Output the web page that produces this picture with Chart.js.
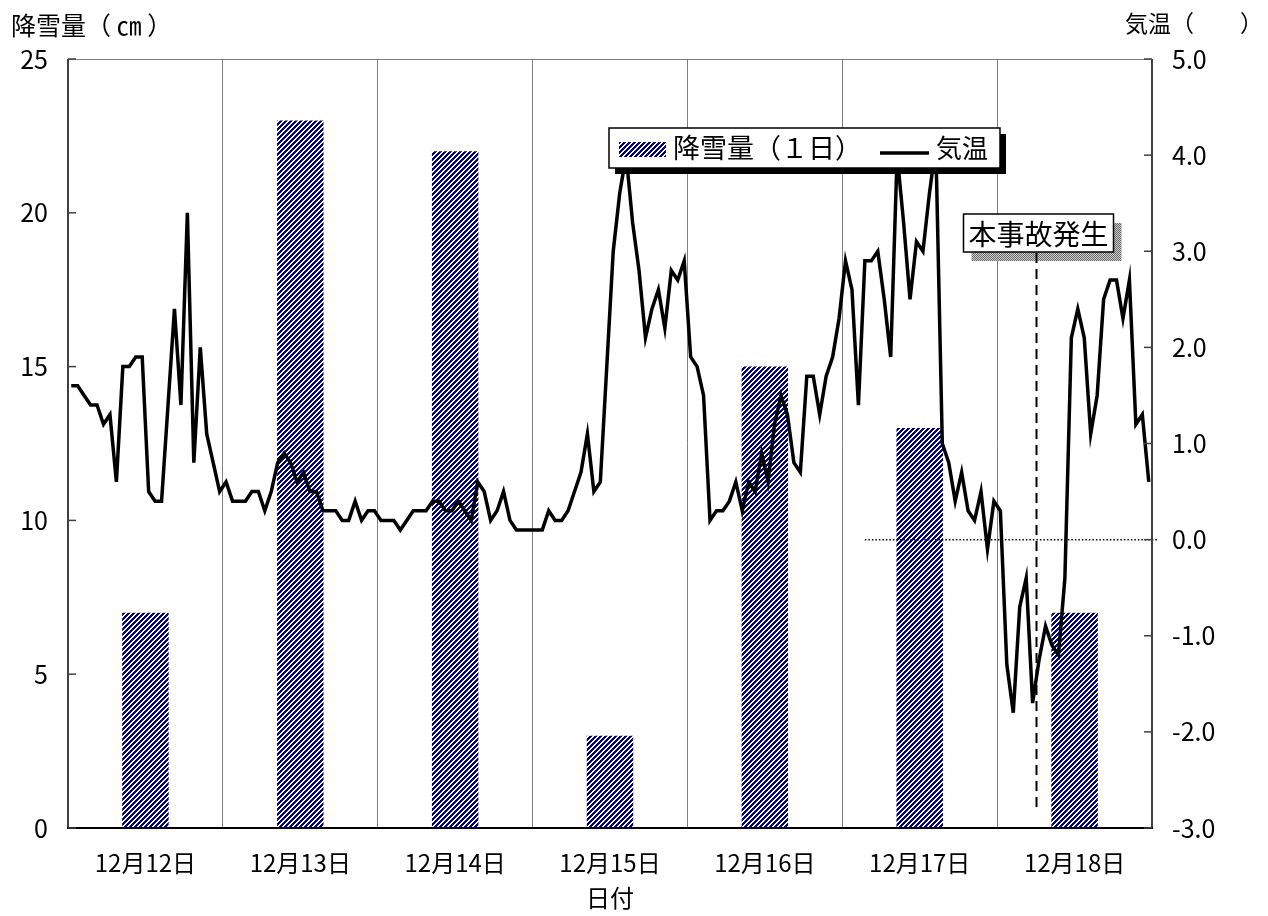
<!DOCTYPE html>
<html lang="ja">
<head>
<meta charset="utf-8">
<title>降雪量と気温</title>
<script src="https://cdn.jsdelivr.net/npm/chart.js@4.4.1/dist/chart.umd.min.js"></script>
<style>
  html, body { margin: 0; padding: 0; background: #fff; }
  #wrap { width: 1268px; height: 916px; }
</style>
</head>
<body>
<div id="wrap"><canvas id="chart-snow" width="1268" height="916"></canvas></div>
<script>
/* ---- data ---- */
const dayLabels = ['12月12日', '12月13日', '12月14日', '12月15日', '12月16日', '12月17日', '12月18日'];
const snowfall = [7, 23, 22, 3, 15, 13, 7];          // cm / day
// hourly temperature, 12/12 0時 .. 12/18 23時
const tempDay12 = [1.6, 1.6, 1.5, 1.4, 1.4, 1.2, 1.3, 0.6, 1.8, 1.8, 1.9, 1.9, 0.5, 0.4, 0.4, 1.4, 2.4, 1.4, 3.4, 0.8, 2.0, 1.1, 0.8, 0.5];
const tempDay13 = [0.6, 0.4, 0.4, 0.4, 0.5, 0.5, 0.3, 0.5, 0.8, 0.9, 0.8, 0.6, 0.7, 0.5, 0.5, 0.3, 0.3, 0.3, 0.2, 0.2, 0.4, 0.2, 0.3, 0.3];
const tempDay14 = [0.2, 0.2, 0.2, 0.1, 0.2, 0.3, 0.3, 0.3, 0.4, 0.4, 0.3, 0.3, 0.4, 0.3, 0.2, 0.6, 0.5, 0.2, 0.3, 0.5, 0.2, 0.1, 0.1, 0.1];
const tempDay15 = [0.1, 0.1, 0.3, 0.2, 0.2, 0.3, 0.5, 0.7, 1.1, 0.5, 0.6, 1.8, 3.0, 3.6, 4.0, 3.3, 2.8, 2.1, 2.4, 2.6, 2.2, 2.8, 2.7, 2.9];
const tempDay16 = [1.9, 1.8, 1.5, 0.2, 0.3, 0.3, 0.4, 0.6, 0.3, 0.6, 0.5, 0.9, 0.6, 1.2, 1.5, 1.3, 0.8, 0.7, 1.7, 1.7, 1.3, 1.7, 1.9, 2.3];
const tempDay17 = [2.9, 2.6, 1.4, 2.9, 2.9, 3.0, 2.5, 1.9, 4.0, 3.3, 2.5, 3.1, 3.0, 3.6, 4.1, 1.0, 0.8, 0.4, 0.7, 0.3, 0.2, 0.5, -0.1, 0.4];
const tempDay18 = [0.3, -1.3, -1.8, -0.7, -0.4, -1.7, -1.25, -0.9, -1.1, -1.2, -0.4, 2.1, 2.4, 2.1, 1.1, 1.5, 2.5, 2.7, 2.7, 2.3, 2.7, 1.2, 1.3, 0.6];
const temperature = [].concat(tempDay12, tempDay13, tempDay14, tempDay15, tempDay16, tempDay17, tempDay18);

const accidentHour = 150.1;       // 本事故発生 (hours from 12/12 0時)
const accidentLineBottom = -2.84; // lower end of the marker line, in ℃ axis units
const zeroLineFromHour = 123.5;   // dotted 0.0 reference line start

/* ---- look ---- */
const FONT = '"Noto Sans CJK JP", "Noto Sans CJK SC", sans-serif';

const canvas = document.getElementById('chart-snow');
const ctx = canvas.getContext('2d');

// navy / white diagonal hatch like the spreadsheet fill
function makeHatch() {
  const n = 5;
  const c = document.createElement('canvas');
  c.width = n; c.height = n;
  const g = c.getContext('2d');
  const img = g.createImageData(n, n);
  for (let y = 0; y < n; y++) {
    for (let x = 0; x < n; x++) {
      const k = (y * n + x) * 4;
      const on = ((x + y) % n) < 3;
      img.data[k] = on ? 0 : 255;
      img.data[k + 1] = on ? 0 : 255;
      img.data[k + 2] = on ? 128 : 255;
      img.data[k + 3] = 255;
    }
  }
  g.putImageData(img, 0, 0);
  return ctx.createPattern(c, 'repeat');
}

function makeChecker() {
  const c = document.createElement('canvas');
  c.width = 2; c.height = 2;
  const g = c.getContext('2d');
  g.fillStyle = '#c8c8c8'; g.fillRect(0, 0, 2, 2);
  g.fillStyle = '#6e6e6e'; g.fillRect(0, 0, 1, 1); g.fillRect(1, 1, 1, 1);
  return ctx.createPattern(c, 'repeat');
}

const hatch = makeHatch();
const checker = makeChecker();

/* ---- overlay: frame, inner ticks, legend, annotation, axis titles ---- */
const overlayPlugin = {
  id: 'overlay',
  afterDatasetsDraw(chart) {
    const c = chart.ctx;
    const area = chart.chartArea;
    const yL = chart.scales.y, yR = chart.scales.y2, xh = chart.scales.xh;
    c.save();

    // 0.0 dotted line
    const y0 = yR.getPixelForValue(0);
    c.strokeStyle = '#000';
    c.lineWidth = 1.5;
    c.setLineDash([1.5, 2]);
    c.beginPath();
    c.moveTo(xh.getPixelForValue(zeroLineFromHour), y0);
    c.lineTo(area.right + 6, y0);
    c.stroke();
    c.setLineDash([]);

    // frame
    c.lineWidth = 1;
    c.strokeStyle = '#808080';
    c.beginPath(); c.moveTo(area.left, area.top + 0.5); c.lineTo(area.right, area.top + 0.5); c.stroke();
    c.lineWidth = 2;
    c.strokeStyle = '#404040';
    c.beginPath(); c.moveTo(area.left, area.top); c.lineTo(area.left, area.bottom); c.stroke();
    c.beginPath(); c.moveTo(area.right, area.top); c.lineTo(area.right, area.bottom); c.stroke();
    c.strokeStyle = '#000';
    c.beginPath(); c.moveTo(area.left - 1, area.bottom); c.lineTo(area.right + 1, area.bottom); c.stroke();

    // inner tick marks
    c.lineWidth = 1.5;
    c.strokeStyle = '#404040';
    yL.ticks.forEach(t => {
      const p = yL.getPixelForValue(t.value);
      c.beginPath(); c.moveTo(area.left, p); c.lineTo(area.left + 8, p); c.stroke();
    });
    yR.ticks.forEach(t => {
      const p = yR.getPixelForValue(t.value);
      c.beginPath(); c.moveTo(area.right - 8, p); c.lineTo(area.right, p); c.stroke();
    });

    // legend box
    const lg = { x: 609, y: 128, w: 391, h: 40 };
    c.fillStyle = '#000';
    c.fillRect(lg.x + 6, lg.y + 6, lg.w, lg.h);
    c.fillStyle = '#fff';
    c.fillRect(lg.x, lg.y, lg.w, lg.h);
    c.lineWidth = 1.5;
    c.strokeStyle = '#000';
    c.strokeRect(lg.x, lg.y, lg.w, lg.h);
    c.fillStyle = hatch;
    c.fillRect(lg.x + 10, lg.y + 14, 47, 15);
    c.fillStyle = '#000';
    c.font = '27px ' + FONT;
    c.textBaseline = 'middle';
    c.textAlign = 'left';
    c.fillText('降雪量（１日）', lg.x + 64, lg.y + lg.h / 2);
    c.lineWidth = 3.5;
    c.beginPath(); c.moveTo(lg.x + 271, lg.y + 25); c.lineTo(lg.x + 320, lg.y + 25); c.stroke();
    c.font = '26px ' + FONT;
    c.fillText('気温', lg.x + 327, lg.y + lg.h / 2);

    // accident marker
    const ax = xh.getPixelForValue(accidentHour);
    const bx = ax - 73, by = 214, bw = 150, bh = 38;
    c.fillStyle = checker;
    c.fillRect(bx + 8, by + 9, bw, bh);
    c.strokeStyle = '#000';
    c.lineWidth = 2;
    c.setLineDash([10, 6]);
    c.beginPath(); c.moveTo(ax, by + bh + 1); c.lineTo(ax, yR.getPixelForValue(accidentLineBottom)); c.stroke();
    c.setLineDash([]);
    c.fillStyle = '#fff';
    c.fillRect(bx, by, bw, bh);
    c.lineWidth = 1.5;
    c.strokeRect(bx, by, bw, bh);
    c.fillStyle = '#000';
    c.font = '28px ' + FONT;
    c.textAlign = 'center';
    c.fillText('本事故発生', bx + bw / 2, by + bh / 2 + 1);

    // axis titles
    c.font = '25px ' + FONT;
    c.textAlign = 'left';
    c.fillText('降雪量（ ㎝ ）', 11, 25);
    c.font = '23px ' + FONT;
    c.fillText('気温（　　）', 1125, 23);

    c.restore();
  }
};

new Chart(ctx, {
  type: 'bar',
  data: {
    labels: dayLabels,
    datasets: [
      {
        type: 'line',
        label: '気温',
        data: temperature.map((t, i) => ({ x: i + 0.5, y: t })),
        xAxisID: 'xh',
        yAxisID: 'y2',
        borderColor: '#000',
        borderWidth: 3.5,
        borderJoinStyle: 'miter',
        pointRadius: 0,
        tension: 0,
        order: 0
      },
      {
        type: 'bar',
        label: '降雪量（１日）',
        data: snowfall,
        xAxisID: 'x',
        yAxisID: 'y',
        backgroundColor: hatch,
        borderWidth: 0,
        grouped: false,
        barPercentage: 0.3,
        categoryPercentage: 1,
        order: 1
      }
    ]
  },
  options: {
    responsive: false,
    animation: false,
    layout: { padding: { top: 59, left: 0, right: 0, bottom: 0 } },
    plugins: { legend: { display: false }, tooltip: { enabled: false } },
    scales: {
      x: {
        type: 'category',
        position: 'bottom',
        offset: true,
        grid: { offset: true, color: '#808080', lineWidth: 1, drawTicks: false },
        border: { display: false },
        ticks: { color: '#000', font: { size: 24, family: FONT }, padding: 20, maxRotation: 0 },
        title: { display: true, text: '日付', color: '#000', font: { size: 24, family: FONT }, padding: { top: 0, bottom: 4 } },
        afterFit(s) { s.height = 88; s.paddingLeft = 0; s.paddingRight = 0; }
      },
      xh: { type: 'linear', display: false, min: 0, max: 168, offset: false },
      y: {
        type: 'linear',
        position: 'left',
        min: 0, max: 25,
        grid: { display: false, drawTicks: false },
        border: { display: false },
        ticks: { stepSize: 5, color: '#000', font: { size: 25, family: FONT }, padding: 20 },
        afterFit(s) { s.width = 68; s.paddingTop = 0; s.paddingBottom = 0; }
      },
      y2: {
        type: 'linear',
        position: 'right',
        min: -3, max: 5,
        grid: { display: false, drawTicks: false },
        border: { display: false },
        ticks: { stepSize: 1, color: '#000', font: { size: 25, family: FONT }, padding: 20, callback: v => v.toFixed(1) },
        afterFit(s) { s.width = 116; s.paddingTop = 0; s.paddingBottom = 0; }
      }
    }
  },
  plugins: [overlayPlugin]
});
</script>
</body>
</html>
